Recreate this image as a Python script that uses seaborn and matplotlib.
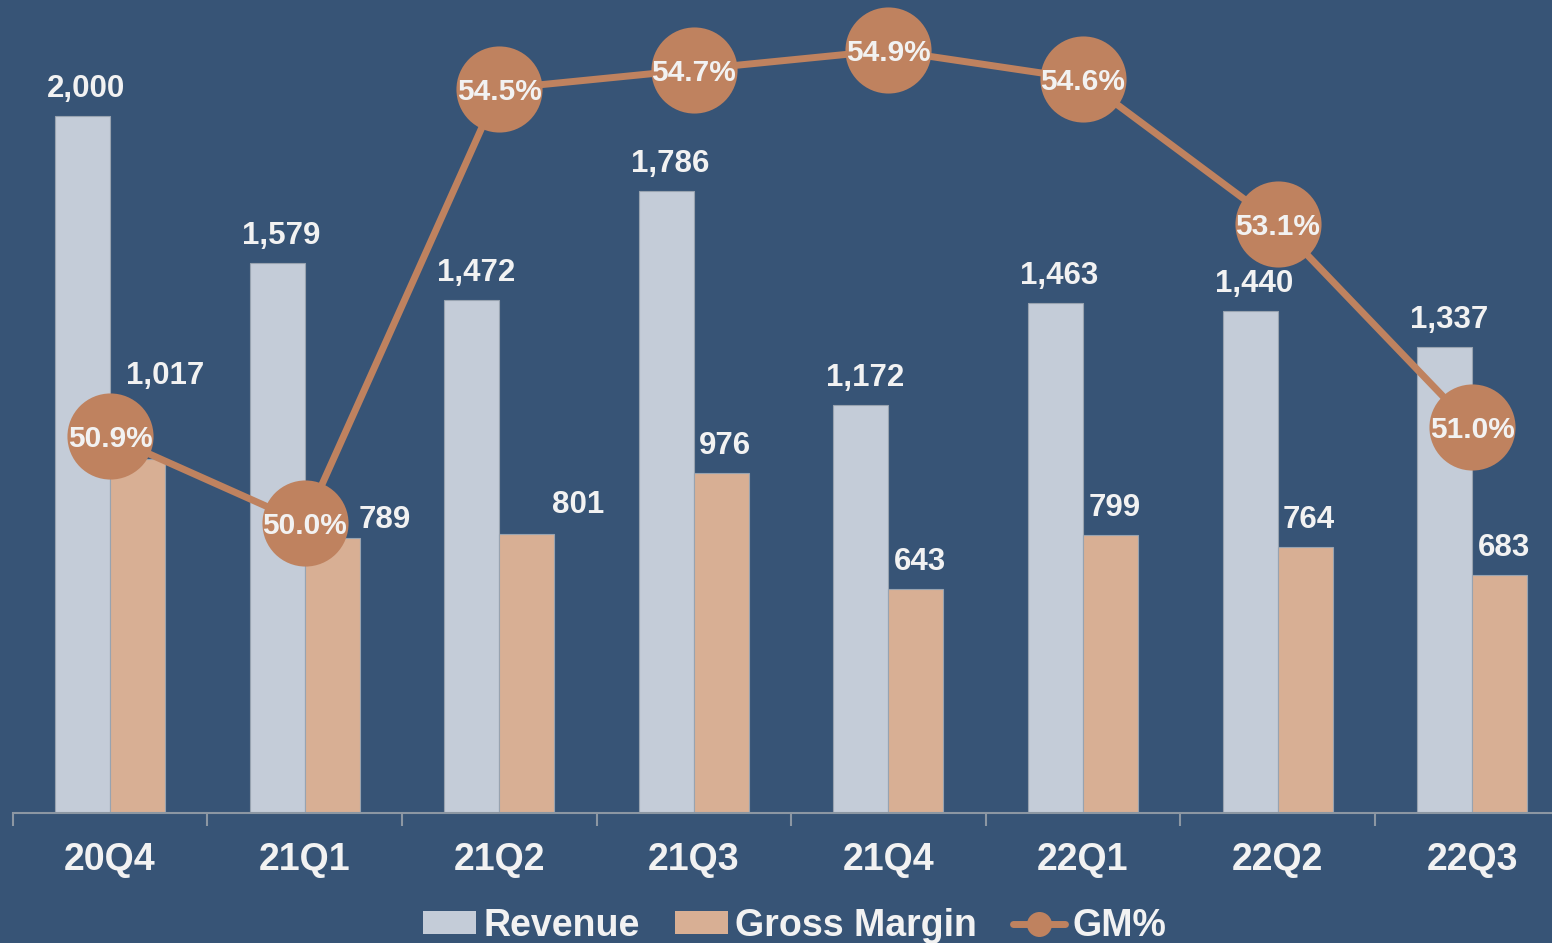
import numpy as np
import pandas as pd
import matplotlib
matplotlib.use('Agg')
import matplotlib.pyplot as plt
import seaborn as sns
from matplotlib.patches import Patch
from matplotlib.lines import Line2D

# ---- data ----
quarters = ['20Q4', '21Q1', '21Q2', '21Q3', '21Q4', '22Q1', '22Q2', '22Q3']
revenue = [2000, 1579, 1472, 1786, 1172, 1463, 1440, 1337]
gross_margin = [1017, 789, 801, 976, 643, 799, 764, 683]
gm_pct = [50.9, 50.0, 54.5, 54.7, 54.9, 54.6, 53.1, 51.0]
series_names = ['Revenue', 'Gross Margin', 'GM%']

# ---- style ----
BG = '#375476'
REV = '#C4CCD8'
GMC = '#D8AF94'
LINE = '#BF825F'
TXT = '#F2F2F2'
AXC = '#8C97A3'

sns.set_theme(style='white')
plt.rcParams['font.family'] = ['Liberation Sans', 'DejaVu Sans']
plt.rcParams['font.weight'] = 'bold'

W, H = 1552, 943
fig = plt.figure(figsize=(W / 100, H / 100), dpi=100, facecolor=BG)
ax = fig.add_axes([12.7 / W, 130 / H, 1556.8 / W, 813 / H])
ax.set_facecolor(BG)

df = pd.DataFrame({
    'Quarter': quarters * 2,
    'Series': [series_names[0]] * len(quarters) + [series_names[1]] * len(quarters),
    'Value': revenue + gross_margin,
})
sns.barplot(data=df, x='Quarter', y='Value', hue='Series',
            palette={series_names[0]: REV, series_names[1]: GMC},
            width=0.566, gap=0, saturation=1, errorbar=None, legend=False,
            edgecolor='#98A3B0', linewidth=0.8, ax=ax)

ax.set_xlim(-0.5, 7.5)
ax.set_ylim(0, 2333)
ax.set_yticks([])
ax.set_xlabel('')
ax.set_ylabel('')
for s in ['top', 'left', 'right']:
    ax.spines[s].set_visible(False)
ax.spines['bottom'].set_color(AXC)
ax.spines['bottom'].set_linewidth(1.5)
ax.tick_params(axis='x', which='major', bottom=False, length=0, pad=21,
               labelsize=27, labelcolor=TXT)
ax.set_xticks(np.arange(-0.5, 8, 1), minor=True)
ax.tick_params(axis='x', which='minor', bottom=True, length=9, width=1.5,
               color=AXC, direction='out')
for lab in ax.get_xticklabels():
    lab.set_fontweight('bold')

# value labels (offsets in px: dx, dy above bar top)
offsets = [
    [(4, 27)] * 8,
    [(28, 83), (53, 18), (51, 29), (4, 27), (4, 27), (4, 27), (4, 27), (4, 27)],
]
for ci, cont in enumerate(ax.containers):
    for bi, bar in enumerate(cont):
        x = bar.get_x() + bar.get_width() / 2
        y = bar.get_height()
        dx, dy = offsets[ci][bi]
        ax.annotate(f'{int(round(y)):,}', (x, y), xytext=(dx * 0.72, dy * 0.72),
                    textcoords='offset points', ha='center', va='center',
                    fontsize=22.5, fontweight='bold', color=TXT)

# GM% line on secondary axis
ax2 = ax.twinx()
sns.lineplot(x=np.arange(len(quarters)), y=gm_pct, ax=ax2, color=LINE,
             linewidth=5, marker='o', markersize=62, markeredgewidth=0,
             sort=False)
ax2.set_ylim(47.0, 55.42)
ax2.set_xlim(-0.5, 7.5)
ax2.set_yticks([])
ax2.set_ylabel('')
for s in ax2.spines.values():
    s.set_visible(False)
for i, v in enumerate(gm_pct):
    ax2.text(i, v, f'{v:.1f}%', ha='center', va='center_baseline',
             fontsize=21.5, fontweight='bold', color=TXT)

handles = [
    Patch(facecolor=REV, edgecolor='none'),
    Patch(facecolor=GMC, edgecolor='none'),
    Line2D([0], [0], color=LINE, lw=5, marker='o', markersize=18,
           markeredgewidth=0),
]
leg = fig.legend(handles, series_names, loc='center',
                 bbox_to_anchor=(795 / W, 1 - 926 / H), ncol=3,
                 frameon=False, handlelength=1.4,
                 handleheight=0.55, handletextpad=0.2, columnspacing=0.95,
                 labelcolor=TXT, prop={'weight': 'bold', 'size': 27})

fig.savefig('out.png', dpi=100, facecolor=BG)
